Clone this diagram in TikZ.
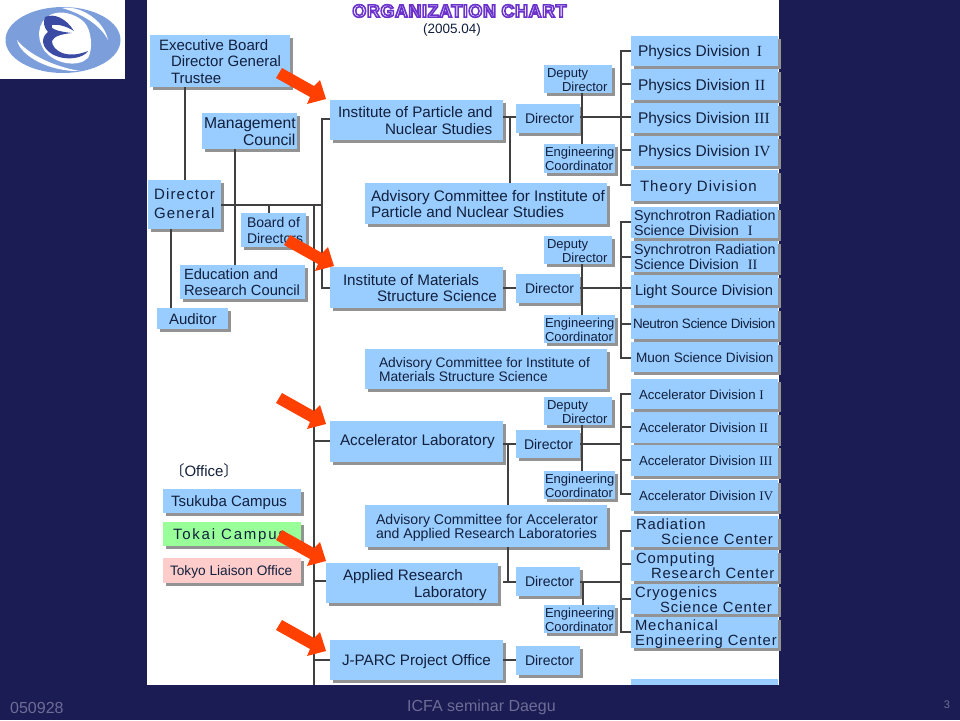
\documentclass[tikz,border=0pt]{standalone}
\usepackage{fontspec}
\setmainfont{Liberation Sans}
\newfontfamily\romanfont{Liberation Serif}
\newfontfamily\cjkfont{Noto Sans CJK JP}
\usetikzlibrary{shadows}
\definecolor{navy}{HTML}{1C1C54}
\definecolor{boxblue}{HTML}{99CCFF}
\definecolor{boxgreen}{HTML}{99FF99}
\definecolor{boxpink}{HTML}{FFCCCC}
\definecolor{ink}{HTML}{12203C}
\definecolor{wire}{HTML}{404040}
\definecolor{redarrow}{HTML}{FF4000}
\definecolor{foot}{HTML}{6C6C96}
\definecolor{logoL}{HTML}{7C9FDC}
\definecolor{logoD}{HTML}{3B4BA4}
\tikzset{
  orgbox/.style={fill=boxblue,text=ink,inner sep=0pt,outer sep=0pt,
    general shadow={shadow xshift=2.5pt,shadow yshift=-2.5pt,fill=gray!85}},
  wirel/.style={draw=wire,line width=1.1pt},
  sz/.style={font=\fontsize{#1}{#1}\selectfont},
  ln/.style 2 args={font=\fontsize{#1}{#2}\selectfont},
  lns/.style n args={3}{font=\fontsize{#1}{#2}\selectfont\addfontfeature{LetterSpace=#3}},
  footer/.style={text=foot,inner sep=0pt,font=\fontsize{16}{16}\selectfont}
}
\newcommand{\dyv}{2.5}
% [options]{name}{x1}{y1}{x2}{y2}{pad}{text}
\newcommand{\bx}[8][]{%
  \pgfmathsetmacro{\bw}{#5-#3}\pgfmathsetmacro{\bh}{#6-#4}%
  \pgfmathsetmacro{\bcx}{(#3+#5)/2}\pgfmathsetmacro{\bcy}{(#4+#6)/2}%
  \node[orgbox,minimum width=\bw pt,minimum height=\bh pt,#1] (#2) at (\bcx,\bcy)
    {\makebox[\bw pt][l]{\hspace*{#7pt}\raisebox{-\dyv pt}[\height][\depth]{\begin{tabular}{@{}l@{}}#8\end{tabular}}}};}
\newcommand{\ra}[2]{\draw[draw=none,fill=redarrow] (#1,#2) -- ++(-6,-19) -- ++(-6,6) -- ++(-32,-18) -- ++(-6,10) -- ++(34,19) -- ++(-3,7) -- cycle;}
\newcommand{\rn}[1]{{\romanfont #1}}
\begin{document}
\begin{tikzpicture}[x=1pt,y=-1pt]
\useasboundingbox (0,0) rectangle (960,720);
\fill[navy] (0,0) rectangle (960,720);
\fill[white] (147,0) rectangle (779,685);
% logo
\fill[white] (0,0) rectangle (125,79);
\fill[logoL] (63,40) ellipse [x radius=57.5,y radius=33];
\fill[white] (17,40) .. controls (20,56) and (50,72) .. (80,71) .. controls (50,66) and (26,52) .. (17,40) -- cycle;
\fill[white] (62,8) .. controls (80,5) and (104,20) .. (108,40) .. controls (100,24) and (80,13) .. (62,8) -- cycle;
\fill[white] (56,13) .. controls (40,16) and (34,34) .. (44,50) .. controls (54,64) and (78,68) .. (88,58) .. controls (93,50) and (92,30) .. (84,22) .. controls (78,16) and (66,11) .. (56,13) -- cycle;
\fill[logoD] (45,17) .. controls (54,13) and (66,18) .. (74,31) .. controls (66,26) and (58,24) .. (52,25) .. controls (50,28) and (54,31) .. (72,33) .. controls (62,34) and (54,36) .. (52,41) .. controls (52,50) and (66,60) .. (88,51) .. controls (84,58) and (66,62) .. (52,54) .. controls (42,48) and (40,38) .. (48,32) .. controls (44,28) and (43,22) .. (45,17) -- cycle;
% title
\node[inner sep=0pt,text=white,font=\bfseries\fontsize{18}{18}\selectfont\addfontfeature{LetterSpace=3}] (title) at (459.5,11) {\special{pdf:code 2 Tr 1.6 w 0.42 0.2 0.8 RG}ORGANIZATION CHART\special{pdf:code 0 Tr}};
\node[inner sep=0pt,text=ink,font=\fontsize{13.5}{14}\selectfont] (date) at (452,30) {(2005.04)};
% left column
\bx[ln={15}{16.5}]{exec}{150}{35}{290}{87}{9}{Executive Board\\\hspace*{12pt}Director General\\\hspace*{12pt}Trustee}
\bx[ln={15.7}{16.5}]{mgmt}{202}{113}{297}{149}{2}{Management\\\hspace*{39pt}Council}
\renewcommand{\dyv}{1}
\bx[lns={15}{19}{8}]{dg}{148}{180}{221}{229}{6}{Director\\General}
\renewcommand{\dyv}{2.5}
\bx[ln={14}{16}]{board}{241}{213}{306}{247}{6}{Board of\\Directors}
\bx[ln={14.7}{15.5}]{edu}{180}{265}{305}{299}{4}{Education and\\Research Council}
\bx[sz=15]{aud}{157}{308}{228}{329}{12}{Auditor}
% office
\node[inner sep=0pt,text=ink,font=\fontsize{15}{15}\selectfont] (office) at (204,471) {{\cjkfont 〔}Office{\cjkfont 〕}};
\bx[sz=15]{tsu}{163}{489}{301}{513}{8}{Tsukuba Campus}
\bx[lns={15}{15}{12},fill=boxgreen]{tok}{163}{522}{301}{546}{10}{Tokai Campus}
\bx[sz=13.7,fill=boxpink]{lia}{163}{558}{301}{583}{7}{Tokyo Liaison Office}
% institutes
\bx[ln={15.2}{16.5}]{ipns}{330}{100}{503}{140}{8}{Institute of Particle and\\\hspace*{47pt}Nuclear Studies}
\bx[ln={15.2}{16.5}]{imss}{330}{267}{503}{308}{13}{Institute of Materials\\\hspace*{34pt}Structure Science}
\renewcommand{\dyv}{1}
\bx[sz=15.3]{lab}{330}{421}{503}{462}{10}{Accelerator Laboratory}
\renewcommand{\dyv}{2.5}
\bx[ln={15.2}{16.5}]{arl}{326}{563}{498}{603}{17}{Applied Research\\\hspace*{71pt}Laboratory}
\bx[sz=15.2]{jp}{330}{640}{503}{680}{12}{J-PARC Project Office}
% advisory
\bx[ln={15.3}{14}]{adv1}{365}{183}{607}{224}{6}{Advisory Committee for Institute of\\Particle and Nuclear Studies}
\bx[ln={13.8}{14}]{adv2}{365}{349}{607}{389}{14}{Advisory Committee for Institute of\\Materials Structure Science}
\bx[ln={14.1}{14}]{adv3}{365}{505}{607}{547}{11}{Advisory Committee for Accelerator\\and Applied Research Laboratories}
% directors
\bx[sz=14]{dir1}{516}{104}{580}{133}{9}{Director}
\bx[sz=14]{dir2}{516}{274}{580}{303}{9}{Director}
\bx[sz=14]{dir3}{516}{430}{580}{458}{8}{Director}
\bx[sz=14]{dir4}{516}{567}{580}{596}{9}{Director}
\bx[sz=14]{dir5}{516}{646}{580}{675}{9}{Director}
% deputy
\bx[ln={13}{14}]{dep1}{544}{65}{612}{93}{3}{Deputy\\\hspace*{15pt}Director}
\bx[ln={13}{14}]{dep2}{544}{236}{612}{264}{3}{Deputy\\\hspace*{15pt}Director}
\bx[ln={13}{14}]{dep3}{544}{397}{612}{425}{3}{Deputy\\\hspace*{15pt}Director}
% engineering
\bx[ln={13}{14}]{eng1}{544}{144}{615}{173}{1}{Engineering\\Coordinator}
\bx[ln={13}{14}]{eng2}{544}{315}{615}{343}{1}{Engineering\\Coordinator}
\bx[ln={13}{14}]{eng3}{544}{471}{615}{499}{1}{Engineering\\Coordinator}
\bx[ln={13}{14}]{eng4}{544}{605}{615}{633}{1}{Engineering\\Coordinator}
% divisions
\bx[sz=15.5]{p1}{631}{36}{778}{66}{7}{Physics Division\hspace{7pt}\rn{I}}
\bx[sz=15.5]{p2}{631}{69}{778}{100}{7}{Physics Division\hspace{5pt}\rn{II}}
\bx[sz=15.5]{p3}{631}{103}{778}{133}{7}{Physics Division \rn{III}}
\bx[sz=15.5]{p4}{631}{136}{778}{166}{7}{Physics Division \rn{IV}}
\bx[lns={15}{15}{7}]{th}{631}{170}{778}{201}{9}{Theory\hspace{5pt}Division}
\bx[ln={14.3}{14}]{sr1}{631}{207}{778}{238}{3}{Synchrotron Radiation\\Science Division\hspace{9pt}\rn{I}}
\bx[ln={14.3}{14}]{sr2}{631}{241}{778}{272}{3}{Synchrotron Radiation\\Science Division\hspace{9pt}\rn{II}}
\bx[sz=14.7]{ls}{631}{275}{778}{305}{4}{Light Source Division}
\bx[lns={13.5}{14}{-3}]{ns}{631}{308}{778}{339}{2}{Neutron Science Division}
\bx[sz=13.6]{mu}{631}{342}{778}{372}{5}{Muon Science Division}
\bx[sz=13.2]{a1}{631}{379}{778}{409}{8}{Accelerator Division \rn{I}}
\bx[sz=13.2]{a2}{631}{412}{778}{443}{8}{Accelerator Division \rn{II}}
\bx[sz=13.2]{a3}{631}{445}{778}{476}{8}{Accelerator Division \rn{III}}
\bx[sz=13.2]{a4}{631}{480}{778}{511}{8}{Accelerator Division \rn{IV}}
\bx[lns={14.8}{14}{6}]{rad}{631}{516}{778}{547}{5}{Radiation\\\hspace*{25pt}Science Center}
\bx[lns={14.8}{14}{6}]{comp}{631}{550}{778}{581}{5}{Computing\\\hspace*{15pt}Research Center}
\bx[lns={14.8}{14}{6}]{cryo}{631}{584}{778}{614}{4}{Cryogenics\\\hspace*{25pt}Science Center}
\bx[lns={14.8}{14}{6}]{mech}{631}{617}{778}{648}{4}{Mechanical\\Engineering Center}
\fill[boxblue] (631,679) rectangle (778,685);
% connectors: left column
\coordinate (spineU) at (322,205);
\coordinate (spineM) at (314,205);
\coordinate (trunkEnd) at (314,685);
\draw[wirel] (exec.south -| 185,0) -- (dg.north -| 185,0);
\draw[wirel] (mgmt.south -| 235,0) -- (edu.north -| 235,0);
\draw[wirel] (dg.east |- spineU) -- (spineU);
\draw[wirel] (board.north -| 269,0) -- (269,205);
\draw[wirel] (dg.south -| 171,0) -- (aud.north -| 171,0);
\draw[wirel] (ipns.west |- 0,119) -| (spineU) |- (imss.west |- 0,288);
\draw[wirel] (spineM) -- (trunkEnd);
\draw[wirel] (314,441) -- (lab.west |- 0,441);
\draw[wirel] (314,581) -- (arl.west |- 0,581);
\draw[wirel] (314,660) -- (jp.west |- 0,660);
% institute 1
\draw[wirel] (ipns.east |- 0,117) -- (dir1.west |- 0,117);
\draw[wirel] (510,117) -- (adv1.north -| 510,0);
\draw[wirel] (dep1.south -| 582,0) -- (eng1.north -| 582,0);
\draw[wirel] (dir1.east |- 0,117) -- (p3.west |- 0,117);
\draw[wirel] (p1.west |- 0,51) -| (621,117);
\draw[wirel] (p2.west |- 0,84) -- (621,84);
\draw[wirel] (p4.west |- 0,150) -- (621,150);
\draw[wirel] (th.west |- 0,185) -| (621,117);
% institute 2
\draw[wirel] (imss.east |- 0,288) -- (dir2.west |- 0,288);
\draw[wirel] (dep2.south -| 582,0) -- (eng2.north -| 582,0);
\draw[wirel] (dir2.east |- 0,288) -- (ls.west |- 0,288);
\draw[wirel] (sr1.west |- 0,222) -| (621,288);
\draw[wirel] (sr2.west |- 0,257) -- (621,257);
\draw[wirel] (ns.west |- 0,324) -- (621,324);
\draw[wirel] (mu.west |- 0,358) -| (621,288);
% laboratory
\draw[wirel] (lab.east |- 0,444) -- (dir3.west |- 0,444);
\draw[wirel] (508,444) -- (adv3.north -| 508,0);
\draw[wirel] (dep3.south -| 582,0) -- (eng3.north -| 582,0);
\draw[wirel] (dir3.east |- 0,444) -- (621,444);
\draw[wirel] (a1.west |- 0,394) -| (621,444);
\draw[wirel] (a2.west |- 0,427) -- (621,427);
\draw[wirel] (a3.west |- 0,460) -- (621,460);
\draw[wirel] (a4.west |- 0,494) -| (621,444);
% applied research
\draw[wirel] (508,547) -- (508,582);
\draw[wirel] (503,582) -- (dir4.west |- 0,582);
\draw[wirel] (dir4.east |- 0,582) -- (621,582);
\draw[wirel] (583,582) -- (eng4.north -| 583,0);
\draw[wirel] (rad.west |- 0,531) -| (621,582);
\draw[wirel] (comp.west |- 0,564) -- (621,564);
\draw[wirel] (cryo.west |- 0,599) -- (621,599);
\draw[wirel] (mech.west |- 0,632) -| (621,582);
% j-parc
\draw[wirel] (jp.east |- 0,660) -- (dir5.west |- 0,660);
% red arrows
\ra{326}{99}
\ra{334}{266}
\ra{326}{424}
\ra{326}{561}
\ra{326}{651}
% footer
\node[footer,anchor=west] (f1) at (10,707.5) {050928};
\node[footer,anchor=west] (f2) at (407,707.5) {ICFA seminar Daegu};
\node[footer,anchor=center,font=\fontsize{11}{11}\selectfont] (f3) at (947,705) {3};
\end{tikzpicture}
\end{document}
